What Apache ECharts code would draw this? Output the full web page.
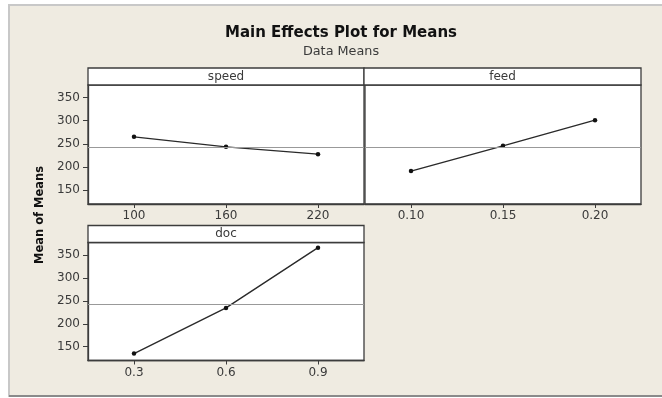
<!DOCTYPE html>
<html><head><meta charset="utf-8">
<script src="https://cdn.jsdelivr.net/npm/echarts@6/dist/echarts.min.js"></script>
<style>html,body{margin:0;padding:0;background:#fff}#c{width:662px;height:398px}</style>
</head><body><div id="c"></div>
<script>
const speedLevels = ['100', '160', '220'];
const speedMeans = [265, 243.4, 227.7];
const feedLevels = ['0.10', '0.15', '0.20'];
const feedMeans = [191, 245.6, 301];
const docLevels = ['0.3', '0.6', '0.9'];
const docMeans = [135, 234.5, 365.8];
const yTicks = [150, 200, 250, 300, 350];
const grandMean = 242.5;
const panelNames = ['speed', 'feed', 'doc'];

const FONT = 'DejaVu Sans';
const frame = '#3c3c3c';
const txt = '#3a3a3a';

const grids = [
  {left: 88, top: 85, width: 276, height: 119},
  {left: 365, top: 85, width: 276, height: 119},
  {left: 88, top: 242.5, width: 276, height: 118}
];
const strips = [
  {x: 88, y: 68, w: 276, h: 17},
  {x: 364, y: 68, w: 277, h: 17},
  {x: 88, y: 225.5, w: 276, h: 17}
];

const levels = [speedLevels, feedLevels, docLevels];
const means = [speedMeans, feedMeans, docMeans];

const option = {
  animation: false,
  backgroundColor: '#fff',
  grid: grids.map(g => Object.assign({show: true, backgroundColor: '#fff', borderColor: frame, borderWidth: 1.3, containLabel: false}, g)),
  xAxis: levels.map((lv, i) => ({
    type: 'category', gridIndex: i, data: lv, boundaryGap: true,
    axisLine: {show: true, lineStyle: {color: frame, width: 1.3}},
    axisTick: {show: true, alignWithLabel: true, length: 4, lineStyle: {color: frame}},
    axisLabel: {color: txt, fontFamily: FONT, fontSize: 12, margin: 6},
    splitLine: {show: false}
  })),
  yAxis: [0, 1, 2].map(i => ({
    type: 'value', gridIndex: i, min: 120, max: 377,
    axisLine: {show: i !== 1, lineStyle: {color: frame, width: 1.3}},
    axisTick: {show: i !== 1, length: 5, customValues: yTicks, lineStyle: {color: frame}},
    axisLabel: {show: i !== 1, customValues: yTicks, color: txt, fontFamily: FONT, fontSize: 12, margin: 8},
    splitLine: {show: false}
  })),
  series: means.map((m, i) => ({
    type: 'line', xAxisIndex: i, yAxisIndex: i, data: m,
    symbol: 'circle', symbolSize: 4.5, showSymbol: true,
    itemStyle: {color: '#111'},
    lineStyle: {color: '#2a2a2a', width: 1.4},
    markLine: {
      silent: true, symbol: ['none', 'none'], label: {show: false},
      lineStyle: {color: '#999', width: 1.2, type: 'solid'},
      data: [{yAxis: grandMean}]
    }
  })),
  graphic: [
    {type: 'rect', z: -100, silent: true, shape: {x: 9, y: 5, width: 700, height: 391},
     style: {fill: '#efebe1', stroke: '#c8c8c8', lineWidth: 2}},
    {type: 'line', z: -99, silent: true, shape: {x1: 9, y1: 396, x2: 662, y2: 396},
     style: {stroke: '#8a8a8a', lineWidth: 2}},
    {type: 'text', x: 341, y: 33, style: {text: 'Main Effects Plot for Means', font: 'bold 15px "' + FONT + '"', fill: '#111', textAlign: 'center', textVerticalAlign: 'middle'}},
    {type: 'text', x: 341, y: 52, style: {text: 'Data Means', font: '12.8px "' + FONT + '"', fill: txt, textAlign: 'center', textVerticalAlign: 'middle'}},
    {type: 'text', x: 40, y: 215, rotation: Math.PI / 2, style: {text: 'Mean of Means', font: 'bold 11.5px "' + FONT + '"', fill: '#111', textAlign: 'center', textVerticalAlign: 'middle'}}
  ].concat(strips.map((s, i) => ({
    type: 'group', children: [
      {type: 'rect', shape: {x: s.x, y: s.y, width: s.w, height: s.h}, style: {fill: '#fff', stroke: frame, lineWidth: 1.3}},
      {type: 'text', x: s.x + s.w / 2, y: s.y + s.h / 2, style: {text: panelNames[i], font: '12px "' + FONT + '"', fill: txt, textAlign: 'center', textVerticalAlign: 'middle'}}
    ]
  })))
};
echarts.init(document.getElementById('c')).setOption(option);
</script></body></html>
